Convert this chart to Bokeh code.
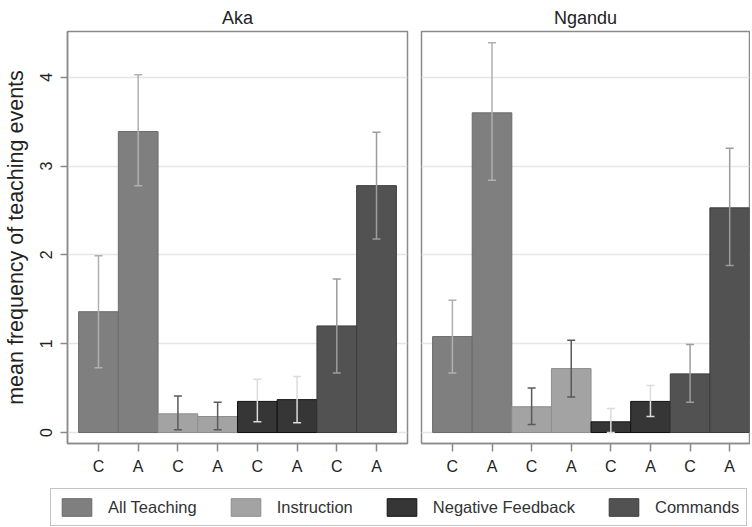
import numpy as np
from bokeh.plotting import figure
from bokeh.models import (ColumnDataSource, Range1d, FixedTicker, Whisker, TeeHead,
                          Legend, LegendItem, Grid)
from bokeh.layouts import column, row
from bokeh.embed import file_html
from bokeh.resources import INLINE

# ---------------- data ----------------
panels = ["Aka", "Ngandu"]
series = ["All Teaching", "Instruction", "Negative Feedback", "Commands"]
x_labels = ["C", "A", "C", "A", "C", "A", "C", "A"]

aka_mean = [1.36, 3.39, 0.21, 0.18, 0.35, 0.37, 1.20, 2.78]
aka_low = [0.73, 2.78, 0.03, 0.03, 0.12, 0.11, 0.67, 2.18]
aka_high = [1.99, 4.03, 0.41, 0.34, 0.60, 0.63, 1.73, 3.38]

ngandu_mean = [1.08, 3.60, 0.29, 0.72, 0.12, 0.35, 0.66, 2.53]
ngandu_low = [0.67, 2.84, 0.09, 0.40, 0.00, 0.18, 0.34, 1.88]
ngandu_high = [1.49, 4.39, 0.50, 1.04, 0.27, 0.53, 0.99, 3.20]

y_ticks = [0, 1, 2, 3, 4]

# ---------------- style ----------------
FONT = "Liberation Sans"
fill_colors = ["#7f7f7f", "#a3a3a3", "#363636", "#525252"]
line_colors = ["#6b6b6b", "#8e8e8e", "#111111", "#3c3c3c"]
err_colors = ["#b0b0b0", "#5a5a5a", "#dcdcdc", "#9c9c9c"]
FRAME_COL = "#8a8a8a"
TEXT_COL = "#222222"
PAD = 0.28


def make_panel(title, mean, low, high, first):
    n = len(mean)
    if first:
        left, frame_w, right = 67, 340, 7
        xr = Range1d(-0.5 - PAD, n - 0.5 + PAD)
    else:
        left, frame_w, right = 7, 328, 1
        xr = Range1d(-0.5 - PAD, n - 0.5)
    p = figure(width=left + frame_w + right, height=478,
               x_range=xr, y_range=Range1d(-0.124, 4.516),
               output_backend="svg", toolbar_location=None,
               y_axis_location="left" if first else None,
               min_border_left=left, min_border_right=right,
               min_border_top=31, min_border_bottom=35)
    p.title.text = title
    p.title.align = "center"
    p.title.text_font = FONT
    p.title.text_font_size = "18px"
    p.title.text_font_style = "normal"
    p.title.text_color = TEXT_COL
    p.title.standoff = 8

    p.outline_line_color = FRAME_COL
    p.outline_line_width = 1.5
    p.background_fill_color = "white"
    p.border_fill_color = "white"

    for k in range(len(series)):
        idx = [2 * k, 2 * k + 1]
        src = ColumnDataSource(dict(
            x=idx,
            top=[mean[i] for i in idx],
            lo=[low[i] for i in idx],
            hi=[high[i] for i in idx],
        ))
        p.vbar(x="x", top="top", bottom=0, width=1, source=src,
               fill_color=fill_colors[k], line_color=line_colors[k], line_width=1)
        w = Whisker(source=src, base="x", upper="hi", lower="lo",
                    line_color=err_colors[k], line_width=1.5, level="annotation",
                    upper_head=TeeHead(size=8, line_color=err_colors[k], line_width=1.5),
                    lower_head=TeeHead(size=8, line_color=err_colors[k], line_width=1.5))
        p.add_layout(w)

    # x axis
    xa = p.xaxis[0]
    xa.ticker = FixedTicker(ticks=list(range(n)))
    xa.major_label_overrides = {i: x_labels[i] for i in range(n)}
    xa.major_label_text_font = FONT
    xa.major_label_text_font_size = "16px"
    xa.major_label_text_color = TEXT_COL
    xa.major_label_standoff = 6
    xa.major_tick_in = 0
    xa.major_tick_out = 8
    xa.minor_tick_line_color = None
    xa.major_tick_line_color = FRAME_COL
    xa.major_tick_line_width = 1.5
    xa.axis_line_color = FRAME_COL
    xa.axis_line_width = 1.5
    p.xgrid.visible = False

    if first:
        ya = p.yaxis[0]
        ya.ticker = FixedTicker(ticks=y_ticks)
        ya.major_label_orientation = "vertical"
        ya.major_label_text_font = FONT
        ya.major_label_text_font_size = "16px"
        ya.major_label_text_color = TEXT_COL
        ya.major_label_standoff = 8
        ya.major_tick_in = 0
        ya.major_tick_out = 7
        ya.minor_tick_line_color = None
        ya.major_tick_line_color = FRAME_COL
        ya.major_tick_line_width = 1.5
        ya.axis_line_color = FRAME_COL
        ya.axis_line_width = 1.5
        ya.axis_label = "mean frequency of teaching events"
        ya.axis_label_text_font = FONT
        ya.axis_label_text_font_size = "21.5px"
        ya.axis_label_text_font_style = "normal"
        ya.axis_label_text_color = TEXT_COL
        ya.axis_label_standoff = 10
        p.ygrid.ticker = FixedTicker(ticks=y_ticks)
        p.ygrid.grid_line_color = "#e6e6e6"
        p.ygrid.grid_line_width = 1.5
    else:
        g = Grid(dimension=1, ticker=FixedTicker(ticks=y_ticks),
                 grid_line_color="#e6e6e6", grid_line_width=1.5)
        p.add_layout(g)
    return p


fa = make_panel(panels[0], aka_mean, aka_low, aka_high, True)
fb = make_panel(panels[1], ngandu_mean, ngandu_low, ngandu_high, False)

# legend figure (dummy bars kept outside its visible range, only for swatches)
lf = figure(width=fa.width + fb.width, height=48, output_backend="svg",
            toolbar_location=None, min_border=0,
            x_range=Range1d(10, 11), y_range=Range1d(10, 11),
            x_axis_location=None, y_axis_location=None)
lf.outline_line_color = None
lf.xgrid.visible = False
lf.ygrid.visible = False
items = []
for k, name in enumerate(series):
    r = lf.vbar(x=[k], top=[1], width=1, fill_color=fill_colors[k],
                line_color=line_colors[k], line_width=1)
    items.append(LegendItem(label=name, renderers=[r]))
leg = Legend(items=items, orientation="horizontal", location=(50, 0),
             glyph_width=37, glyph_height=22, label_standoff=13, spacing=30,
             padding=7, margin=0, border_line_color=FRAME_COL, border_line_width=1.5,
             label_text_font=FONT, label_text_font_size="16.5px",
             label_text_color="#333333")
lf.add_layout(leg)

layout = column(row(fa, fb), lf)
open("out.html", "w").write(file_html(layout, INLINE))
